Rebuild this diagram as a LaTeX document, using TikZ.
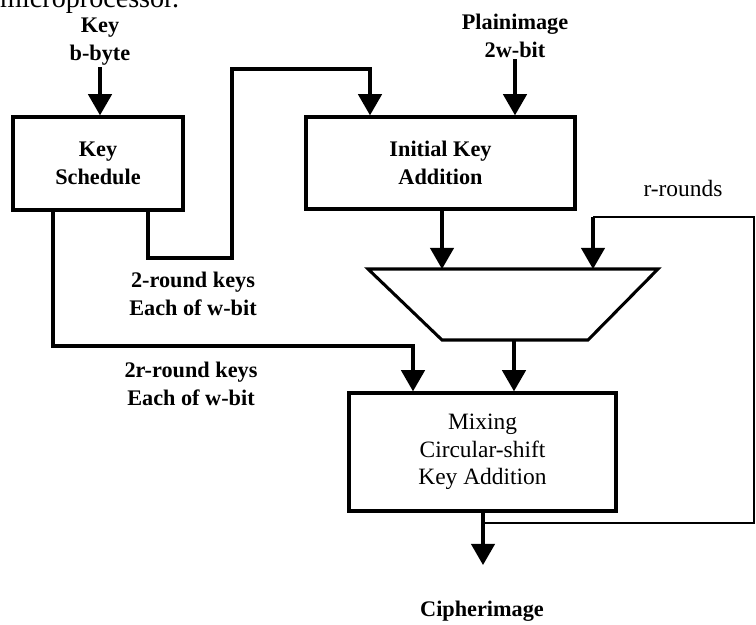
\documentclass[tikz,border=0pt]{standalone}
\usepackage{fontspec}
\setmainfont{Liberation Serif}
\usetikzlibrary{arrows.meta}
\begin{document}
\begin{tikzpicture}[x=0.03cm,y=-0.03cm,
    blk/.style={draw,line width=2.9pt,align=center,font=\fontsize{20pt}{23.5pt}\selectfont},
    lbl/.style={align=center,inner sep=1pt,font=\fontsize{19pt}{24pt}\selectfont\bfseries},
    arr/.style={line width=2.6pt,-{Triangle[width=20pt,length=18pt]}},
    fb/.style={line width=1.9pt}]
  \useasboundingbox (0,0) rectangle (756,625);
  \node[anchor=base west,inner sep=0pt,font=\fontsize{24pt}{28pt}\selectfont] (cap) at (0,8) {microprocessor.};
  % blocks
  \node[blk,minimum width=5.1cm,minimum height=2.79cm,font=\fontsize{19pt}{24pt}\selectfont\bfseries] (ksched) at (98,163.5) {Key\\Schedule};
  \node[blk,minimum width=8.07cm,minimum height=2.76cm,font=\fontsize{19pt}{24pt}\selectfont\bfseries] (initadd) at (440.5,163) {Initial Key\\Addition};
  \node[blk,minimum width=8.01cm,minimum height=3.54cm] (mixbox) at (482.5,452) {Mixing\\Circular-shift\\Key Addition};
  % labels
  \node[lbl] (keyin) at (100,42) {Key\\b-byte};
  \node[lbl] (plain) at (515,36) {Plainimage\\2w-bit};
  \node[lbl] (rk2) at (193,294) {2-round keys\\Each of w-bit};
  \node[lbl] (rk2r) at (191,384) {2r-round keys\\Each of w-bit};
  \node[lbl] (cipher) at (482,611) {Cipherimage};
  \node[lbl,font=\fontsize{20pt}{24pt}\selectfont] (rounds) at (683,188) {r-rounds};
  % multiplexer
  \coordinate (mtl) at (368,269);
  \coordinate (mtr) at (658,269);
  \coordinate (mbr) at (588,340);
  \coordinate (mbl) at (442,340);
  \draw[line width=2.6pt] (mtl) -- (mtr) -- (mbr) -- (mbl) -- cycle;
  \coordinate (min1) at (442,269);
  \coordinate (min2) at (593,269);
  \coordinate (mout) at (514,340);
  % bends
  \coordinate (k2a) at (148,258);
  \coordinate (k2b) at (232,258);
  \coordinate (k2c) at (232,69);
  \coordinate (k2d) at (370,69);
  \coordinate (k2r) at (53,346);
  \coordinate (k2s) at (413,346);
  \coordinate (fsplit) at (483,523);
  \coordinate (fr1) at (754,523);
  \coordinate (fr2) at (754,217);
  \coordinate (fr3) at (593,217);
  \coordinate (ctip) at (483,565);
  % connections
  \draw[arr] (keyin.south) -- (ksched.north -| keyin.south);
  \draw[arr] (plain.south) -- (initadd.north -| plain.south);
  \draw[arr] (ksched.south -| k2a) -- (k2a) -- (k2b) -- (k2c) -- (k2d) -- (initadd.north -| k2d);
  \draw[arr] (ksched.south -| k2r) -- (k2r) -- (k2s) -- (mixbox.north -| k2s);
  \draw[arr] (initadd.south -| min1) -- (min1);
  \draw[arr] (mout) -- (mixbox.north -| mout);
  \draw[fb] (fsplit) -- (fr1) -- (fr2) -- (fr3);
  \draw[arr] (fr3) -- (min2);
  \draw[arr] (mixbox.south -| ctip) -- (ctip);
\end{tikzpicture}
\end{document}
